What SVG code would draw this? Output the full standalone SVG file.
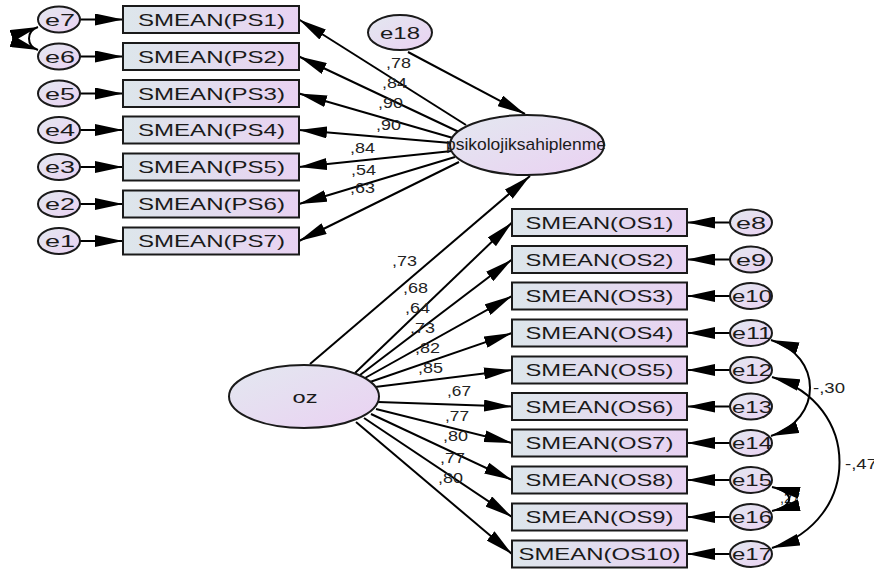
<svg xmlns="http://www.w3.org/2000/svg" width="874" height="574" viewBox="0 0 874 574">
<style>
.bx{fill:url(#gb);stroke:#1a1a1a;stroke-width:2}
.el{fill:url(#ge);stroke:#1a1a1a;stroke-width:2}
.ln{fill:none;stroke:#000;stroke-width:2;marker-end:url(#ah)}
.cv{fill:none;stroke:#000;stroke-width:2;marker-start:url(#ah);marker-end:url(#ah)}
text{font-family:"Liberation Sans",Arial,sans-serif;fill:#1a1a1a}
.bt{font-size:17px;text-anchor:middle}
.et{font-size:17px;text-anchor:middle}
.lb{font-size:15px;fill:#222}
</style>
<defs>
<linearGradient id="gb" x1="0" y1="0" x2="1" y2="0"><stop offset="0" stop-color="#dde6eb"/><stop offset="1" stop-color="#e8d2f2"/></linearGradient>
<linearGradient id="ge" x1="0" y1="0" x2="1" y2="1"><stop offset="0" stop-color="#e3e8f0"/><stop offset="1" stop-color="#ead1f2"/></linearGradient>
<marker id="ah" markerUnits="userSpaceOnUse" markerWidth="28" markerHeight="12" viewBox="0 0 28 12" refX="28" refY="6" orient="auto-start-reverse"><path d="M0,0 L28,6 L0,12 z" fill="#000"/></marker>
</defs>

<g id="hidden-labels">
<text class="lb" x="780" y="503" font-size="12" textLength="20" lengthAdjust="spacingAndGlyphs">,27</text>
</g>

<g id="connectors">
<line class="ln" x1="80" y1="19.5" x2="123" y2="19.5"/>
<line class="ln" x1="80" y1="56.5" x2="123" y2="56.5"/>
<line class="ln" x1="80" y1="93.5" x2="123" y2="93.5"/>
<line class="ln" x1="80" y1="130" x2="123" y2="130"/>
<line class="ln" x1="80" y1="167" x2="123" y2="167"/>
<line class="ln" x1="80" y1="204" x2="123" y2="204"/>
<line class="ln" x1="80" y1="241" x2="123" y2="241"/>
<line class="ln" x1="466" y1="125" x2="299" y2="19.5"/>
<line class="ln" x1="459" y1="132" x2="299" y2="56.5"/>
<line class="ln" x1="453" y1="138" x2="299" y2="93.5"/>
<line class="ln" x1="451" y1="143" x2="299" y2="130"/>
<line class="ln" x1="452" y1="151" x2="299" y2="167"/>
<line class="ln" x1="455" y1="157" x2="299" y2="204"/>
<line class="ln" x1="459" y1="162" x2="299" y2="241"/>
<line class="ln" x1="408" y1="52" x2="525" y2="114"/>
<line class="ln" x1="310" y1="364" x2="530" y2="176"/>
<line class="ln" x1="355" y1="373" x2="512" y2="222.5"/>
<line class="ln" x1="360" y1="375" x2="512" y2="259.5"/>
<line class="ln" x1="365" y1="378" x2="512" y2="296"/>
<line class="ln" x1="370" y1="382" x2="512" y2="333"/>
<line class="ln" x1="375" y1="387" x2="512" y2="370"/>
<line class="ln" x1="378" y1="402" x2="512" y2="406.5"/>
<line class="ln" x1="376" y1="409" x2="512" y2="443"/>
<line class="ln" x1="371" y1="414" x2="512" y2="480"/>
<line class="ln" x1="364" y1="418" x2="512" y2="517"/>
<line class="ln" x1="356" y1="422" x2="512" y2="554"/>
<line class="ln" x1="730" y1="222.5" x2="687" y2="222.5"/>
<line class="ln" x1="730" y1="259.5" x2="687" y2="259.5"/>
<line class="ln" x1="730" y1="296" x2="687" y2="296"/>
<line class="ln" x1="730" y1="333" x2="687" y2="333"/>
<line class="ln" x1="730" y1="370" x2="687" y2="370"/>
<line class="ln" x1="730" y1="406.5" x2="687" y2="406.5"/>
<line class="ln" x1="730" y1="443" x2="687" y2="443"/>
<line class="ln" x1="730" y1="480" x2="687" y2="480"/>
<line class="ln" x1="730" y1="517" x2="687" y2="517"/>
<line class="ln" x1="730" y1="554" x2="687" y2="554"/>
<path class="cv" d="M38,27 C26,31 26,46 38,50"/>
<path class="cv" d="M771,340 C823,356 823,419 771,436"/>
<path class="cv" d="M772,377 C862,404 862,520 772,548"/>
<path class="cv" d="M772,487 C795,492 795,506 772,511"/>
<g id="labels">
<text class="lb" x="386" y="68" textLength="25" lengthAdjust="spacingAndGlyphs">,78</text>
<text class="lb" x="382" y="88" textLength="25" lengthAdjust="spacingAndGlyphs">,84</text>
<text class="lb" x="378" y="108" textLength="25" lengthAdjust="spacingAndGlyphs">,90</text>
<text class="lb" x="376" y="130" textLength="25" lengthAdjust="spacingAndGlyphs">,90</text>
<text class="lb" x="350" y="153" textLength="25" lengthAdjust="spacingAndGlyphs">,84</text>
<text class="lb" x="351" y="175" textLength="25" lengthAdjust="spacingAndGlyphs">,54</text>
<text class="lb" x="350" y="193" textLength="25" lengthAdjust="spacingAndGlyphs">,63</text>
<text class="lb" x="392" y="266" textLength="25" lengthAdjust="spacingAndGlyphs">,73</text>
<text class="lb" x="403" y="293" textLength="25" lengthAdjust="spacingAndGlyphs">,68</text>
<text class="lb" x="405" y="313" textLength="25" lengthAdjust="spacingAndGlyphs">,64</text>
<text class="lb" x="410" y="333" textLength="25" lengthAdjust="spacingAndGlyphs">,73</text>
<text class="lb" x="415" y="353" textLength="25" lengthAdjust="spacingAndGlyphs">,82</text>
<text class="lb" x="418" y="373" textLength="25" lengthAdjust="spacingAndGlyphs">,85</text>
<text class="lb" x="447" y="396" textLength="24" lengthAdjust="spacingAndGlyphs">,67</text>
<text class="lb" x="445" y="421" textLength="24" lengthAdjust="spacingAndGlyphs">,77</text>
<text class="lb" x="443" y="441" textLength="25" lengthAdjust="spacingAndGlyphs">,80</text>
<text class="lb" x="440" y="463" textLength="25" lengthAdjust="spacingAndGlyphs">,77</text>
<text class="lb" x="438" y="483" textLength="25" lengthAdjust="spacingAndGlyphs">,80</text>
<text class="lb" x="813" y="393" textLength="32" lengthAdjust="spacingAndGlyphs">-,30</text>
<text class="lb" x="845" y="469" textLength="32" lengthAdjust="spacingAndGlyphs">-,47</text>
</g>
</g>

<g id="e7"><ellipse class="el" cx="59" cy="19.5" rx="21" ry="13"/><text class="et" x="60" y="25.5" textLength="30" lengthAdjust="spacingAndGlyphs">e7</text></g>
<g id="e6"><ellipse class="el" cx="59" cy="56.5" rx="21" ry="13"/><text class="et" x="60" y="62.5" textLength="30" lengthAdjust="spacingAndGlyphs">e6</text></g>
<g id="e5"><ellipse class="el" cx="59" cy="93.5" rx="21" ry="13"/><text class="et" x="60" y="99.5" textLength="30" lengthAdjust="spacingAndGlyphs">e5</text></g>
<g id="e4"><ellipse class="el" cx="59" cy="130" rx="21" ry="13"/><text class="et" x="60" y="136" textLength="30" lengthAdjust="spacingAndGlyphs">e4</text></g>
<g id="e3"><ellipse class="el" cx="59" cy="167" rx="21" ry="13"/><text class="et" x="60" y="173" textLength="30" lengthAdjust="spacingAndGlyphs">e3</text></g>
<g id="e2"><ellipse class="el" cx="59" cy="204" rx="21" ry="13"/><text class="et" x="60" y="210" textLength="30" lengthAdjust="spacingAndGlyphs">e2</text></g>
<g id="e1"><ellipse class="el" cx="59" cy="241" rx="21" ry="13"/><text class="et" x="60" y="247" textLength="30" lengthAdjust="spacingAndGlyphs">e1</text></g>

<g id="PS1"><rect class="bx" x="123" y="6" width="176" height="27"/><text class="bt" x="211.5" y="25.5" textLength="147" lengthAdjust="spacingAndGlyphs">SMEAN(PS1)</text></g>
<g id="PS2"><rect class="bx" x="123" y="43" width="176" height="27"/><text class="bt" x="211.5" y="62.5" textLength="147" lengthAdjust="spacingAndGlyphs">SMEAN(PS2)</text></g>
<g id="PS3"><rect class="bx" x="123" y="80" width="176" height="27"/><text class="bt" x="211.5" y="99.5" textLength="147" lengthAdjust="spacingAndGlyphs">SMEAN(PS3)</text></g>
<g id="PS4"><rect class="bx" x="123" y="116.5" width="176" height="27"/><text class="bt" x="211.5" y="136" textLength="147" lengthAdjust="spacingAndGlyphs">SMEAN(PS4)</text></g>
<g id="PS5"><rect class="bx" x="123" y="153.5" width="176" height="27"/><text class="bt" x="211.5" y="173" textLength="147" lengthAdjust="spacingAndGlyphs">SMEAN(PS5)</text></g>
<g id="PS6"><rect class="bx" x="123" y="190.5" width="176" height="27"/><text class="bt" x="211.5" y="210" textLength="147" lengthAdjust="spacingAndGlyphs">SMEAN(PS6)</text></g>
<g id="PS7"><rect class="bx" x="123" y="227.5" width="176" height="27"/><text class="bt" x="211.5" y="247" textLength="147" lengthAdjust="spacingAndGlyphs">SMEAN(PS7)</text></g>

<g id="e18"><ellipse class="el" cx="400" cy="32.5" rx="32" ry="17.5"/><text class="et" x="400" y="38.5" font-size="18" textLength="40" lengthAdjust="spacingAndGlyphs">e18</text></g>
<g id="psikolojiksahiplenme"><ellipse class="el" cx="527" cy="145" rx="77" ry="30"/><text class="et" x="526" y="150" font-size="15" textLength="160" lengthAdjust="spacingAndGlyphs">psikolojiksahiplenme</text></g>
<g id="oz"><ellipse class="el" cx="304" cy="396.5" rx="75" ry="31.5"/><text class="et" x="305" y="403" font-size="19" textLength="25" lengthAdjust="spacingAndGlyphs">oz</text></g>

<g id="OS1"><rect class="bx" x="512" y="209" width="175" height="27"/><text class="bt" x="599.5" y="228.5" textLength="148" lengthAdjust="spacingAndGlyphs">SMEAN(OS1)</text></g>
<g id="OS2"><rect class="bx" x="512" y="246" width="175" height="27"/><text class="bt" x="599.5" y="265.5" textLength="148" lengthAdjust="spacingAndGlyphs">SMEAN(OS2)</text></g>
<g id="OS3"><rect class="bx" x="512" y="282.5" width="175" height="27"/><text class="bt" x="599.5" y="302" textLength="148" lengthAdjust="spacingAndGlyphs">SMEAN(OS3)</text></g>
<g id="OS4"><rect class="bx" x="512" y="319.5" width="175" height="27"/><text class="bt" x="599.5" y="339" textLength="148" lengthAdjust="spacingAndGlyphs">SMEAN(OS4)</text></g>
<g id="OS5"><rect class="bx" x="512" y="356.5" width="175" height="27"/><text class="bt" x="599.5" y="376" textLength="148" lengthAdjust="spacingAndGlyphs">SMEAN(OS5)</text></g>
<g id="OS6"><rect class="bx" x="512" y="393" width="175" height="27"/><text class="bt" x="599.5" y="412.5" textLength="148" lengthAdjust="spacingAndGlyphs">SMEAN(OS6)</text></g>
<g id="OS7"><rect class="bx" x="512" y="429.5" width="175" height="27"/><text class="bt" x="599.5" y="449" textLength="148" lengthAdjust="spacingAndGlyphs">SMEAN(OS7)</text></g>
<g id="OS8"><rect class="bx" x="512" y="466.5" width="175" height="27"/><text class="bt" x="599.5" y="486" textLength="148" lengthAdjust="spacingAndGlyphs">SMEAN(OS8)</text></g>
<g id="OS9"><rect class="bx" x="512" y="503.5" width="175" height="27"/><text class="bt" x="599.5" y="523" textLength="148" lengthAdjust="spacingAndGlyphs">SMEAN(OS9)</text></g>
<g id="OS10"><rect class="bx" x="512" y="540.5" width="175" height="27"/><text class="bt" x="599.5" y="560" textLength="162" lengthAdjust="spacingAndGlyphs">SMEAN(OS10)</text></g>

<g id="e8"><ellipse class="el" cx="751" cy="222.5" rx="21" ry="13"/><text class="et" x="751" y="228.5" textLength="30" lengthAdjust="spacingAndGlyphs">e8</text></g>
<g id="e9"><ellipse class="el" cx="751" cy="259.5" rx="21" ry="13"/><text class="et" x="751" y="265.5" textLength="30" lengthAdjust="spacingAndGlyphs">e9</text></g>
<g id="e10"><ellipse class="el" cx="751" cy="296" rx="21" ry="13"/><text class="et" x="752" y="302" textLength="40" lengthAdjust="spacingAndGlyphs">e10</text></g>
<g id="e11"><ellipse class="el" cx="751" cy="333" rx="21" ry="13"/><text class="et" x="752" y="339" textLength="40" lengthAdjust="spacingAndGlyphs">e11</text></g>
<g id="e12"><ellipse class="el" cx="751" cy="370" rx="21" ry="13"/><text class="et" x="752" y="376" textLength="40" lengthAdjust="spacingAndGlyphs">e12</text></g>
<g id="e13"><ellipse class="el" cx="751" cy="406.5" rx="21" ry="13"/><text class="et" x="752" y="412.5" textLength="40" lengthAdjust="spacingAndGlyphs">e13</text></g>
<g id="e14"><ellipse class="el" cx="751" cy="443" rx="21" ry="13"/><text class="et" x="752" y="449" textLength="40" lengthAdjust="spacingAndGlyphs">e14</text></g>
<g id="e15"><ellipse class="el" cx="751" cy="480" rx="21" ry="13"/><text class="et" x="752" y="486" textLength="40" lengthAdjust="spacingAndGlyphs">e15</text></g>
<g id="e16"><ellipse class="el" cx="751" cy="517" rx="21" ry="13"/><text class="et" x="752" y="523" textLength="40" lengthAdjust="spacingAndGlyphs">e16</text></g>
<g id="e17"><ellipse class="el" cx="751" cy="554" rx="21" ry="13"/><text class="et" x="752" y="560" textLength="40" lengthAdjust="spacingAndGlyphs">e17</text></g>
</svg>
